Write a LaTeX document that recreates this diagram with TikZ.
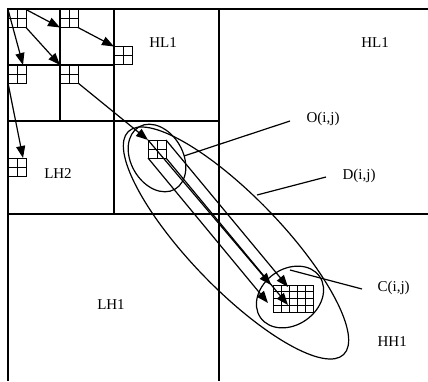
\documentclass[tikz,border=0pt]{standalone}
\usepackage{fontspec}
\setmainfont{Liberation Serif}
\usetikzlibrary{arrows.meta,calc}
\begin{document}
\begin{tikzpicture}[x=1pt,y=-1pt,line width=1.2pt,
  part/.style={line width=1.3pt},
  sq/.style={draw,line width=1pt,minimum size=18pt,inner sep=0pt,outer sep=0pt,
    path picture={\draw[line width=1pt] (path picture bounding box.north) -- (path picture bounding box.south)
      (path picture bounding box.west) -- (path picture bounding box.east);}},
  bigsq/.style={draw,line width=1pt,minimum width=40pt,minimum height=27pt,inner sep=0pt,outer sep=0pt,
    path picture={
      \foreach \i in {1,2,3,4}{\draw[line width=1pt] ($(path picture bounding box.north west)!\i/5!(path picture bounding box.north east)$) -- ($(path picture bounding box.south west)!\i/5!(path picture bounding box.south east)$);}
      \foreach \j in {1,2,3}{\draw[line width=1pt] ($(path picture bounding box.north west)!\j/4!(path picture bounding box.south west)$) -- ($(path picture bounding box.north east)!\j/4!(path picture bounding box.south east)$);}
    }},
  arr/.style={line width=1.2pt,-{Triangle[length=12pt,width=9pt]}},
  lbl/.style={font=\fontsize{15}{18}\selectfont,inner sep=0pt},
  ell/.style={line width=1.2pt}]
\useasboundingbox (0,0) rectangle (428,381);
% partition
\draw[part] (428,9) -- (8,9) -- (8,381);
\draw[part] (219,9) -- (219,381);
\draw[part] (8,214) -- (428,214);
\draw[part] (114,9) -- (114,214);
\draw[part] (8,121) -- (219,121);
\draw[part] (60,9) -- (60,121);
\draw[part] (8,65) -- (114,65);
% small grids
\node[sq] (g1) at (17,18.5) {};
\node[sq] (g2) at (69,18.5) {};
\node[sq] (g3) at (123,55.5) {};
\node[sq] (g4) at (17,74) {};
\node[sq] (g5) at (69,74) {};
\node[sq] (g6) at (17,167) {};
\node[sq] (g7) at (157,149) {};
\node[bigsq] (cg) at (293,298.5) {};
% arrows in the tree
\draw[arr] (g1.north east) -- (g2.south west);
\draw[arr] (g1.south east) -- (g5.north west);
\draw[arr] (g1.north west) -- ($(g4.north)!0.67!(g4.north east)$);
\draw[arr] (g2.south east) -- (g3.north west);
\draw[arr] (g4.south west) -- ($(g6.north)!0.67!(g6.north east)$);
\draw[arr] (g5.south east) -- (g7.north west);
% arrows to the children
\coordinate (t1) at (271,285);
\coordinate (t2) at (288,287);
\coordinate (t3) at (268,303);
\coordinate (t4) at (288,305);
\draw[arr] (g7.north west) -- (t1);
\draw[arr] (g7.north east) -- (t2);
\draw[arr] (g7.south west) -- (t3);
\draw[arr] (g7.south east) -- (t4);
% ellipses
\draw[ell,rotate around={-60:(157,158)}] (157,158) ellipse [x radius=36pt,y radius=26pt];
\draw[ell,rotate around={35:(290,297)}] (290,297) ellipse [x radius=36pt,y radius=28pt];
\draw[ell,rotate around={-46:(236,243)}] (236,243) ellipse [x radius=155pt,y radius=46pt];
% labels
\node[lbl] (hl1a) at (163,43) {HL1};
\node[lbl] (hl1b) at (375,43) {HL1};
\node[lbl] (lh2) at (58,174) {LH2};
\node[lbl] (lh1) at (111,305) {LH1};
\node[lbl,anchor=west] (hh1) at (377,342) {HH1};
\node[lbl,anchor=west] (lo) at (306,119) {O(i,j)};
\node[lbl,anchor=west] (ld) at (342,176) {D(i,j)};
\node[lbl,anchor=west] (lc) at (377,288) {C(i,j)};
% pointers
\coordinate (po) at (184,156);
\coordinate (pd) at (257,195);
\coordinate (pc) at (290,270);
\draw (po) -- ($(lo.west)+(-16,2)$);
\draw (pd) -- ($(ld.west)+(-16,1)$);
\draw (pc) -- ($(lc.west)+(-15,1)$);
\end{tikzpicture}
\end{document}
